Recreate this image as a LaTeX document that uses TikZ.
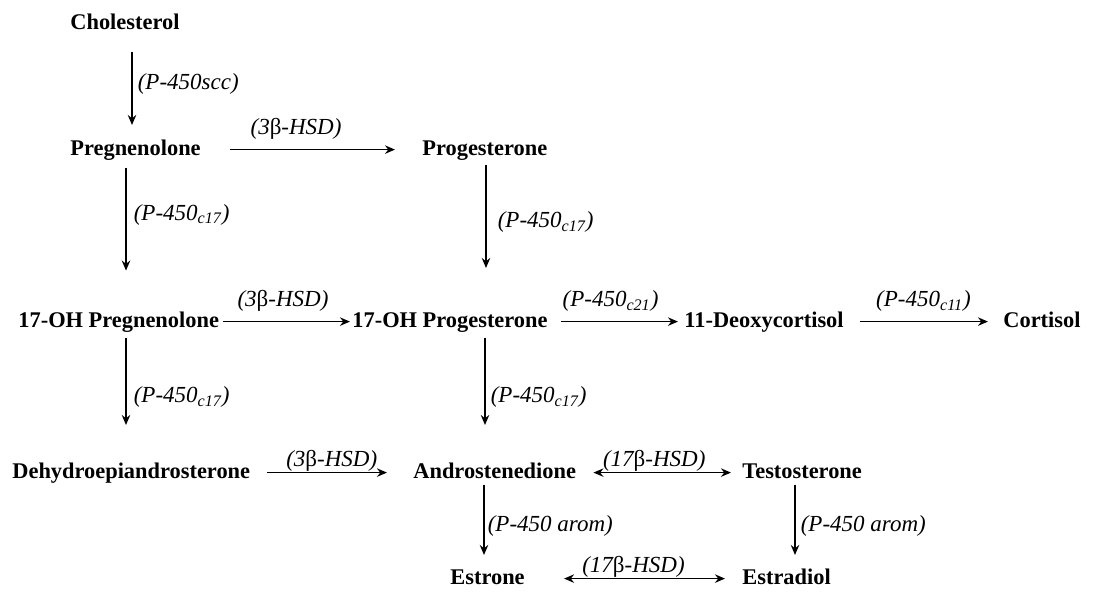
\documentclass[tikz,border=0pt]{standalone}
\usepackage{fontspec}
\setmainfont{Liberation Serif}
\usetikzlibrary{arrows.meta}
\begin{document}
\begin{tikzpicture}[x=0.5pt,y=-0.5pt,
    compound/.style={inner sep=0pt,anchor=base west,text height=8pt,text depth=2.6pt,
      font=\fontsize{11.2}{13}\selectfont\bfseries},
    enzyme/.style={inner sep=0.5pt,font=\fontsize{11.5}{13}\selectfont\itshape},
    conv/.style={-{Stealth[length=5pt,width=4.2pt]},line width=0.8pt},
    rev/.style={{Stealth[length=5pt,width=4.2pt]}-{Stealth[length=5pt,width=4.2pt]},line width=0.8pt},
    gaps/.style 2 args={shorten <=#1,shorten >=#2}]
  \useasboundingbox (0,0) rectangle (1093,594);
  \newcommand{\bhsd}{(3{\upshape β}-HSD)}
  \newcommand{\shsd}{(17{\upshape β}-HSD)}
  \node[compound] (chol) at (70,29) {Cholesterol};
  \node[compound] (preg) at (70,155) {Pregnenolone};
  \node[compound] (prog) at (422,155) {Progesterone};
  \node[compound] (preg17) at (18,327) {17-OH Pregnenolone};
  \node[compound] (prog17) at (352,327) {17-OH Progesterone};
  \node[compound] (deoxy) at (684,327) {11-Deoxycortisol};
  \node[compound] (cort) at (1003,327) {Cortisol};
  \node[compound] (dhea) at (12,478) {Dehydroepiandrosterone};
  \node[compound] (andro) at (413,478) {Androstenedione};
  \node[compound] (testo) at (742,478) {Testosterone};
  \node[compound] (estrone) at (450,584) {Estrone};
  \node[compound] (estradiol) at (742,584) {Estradiol};
  \draw[conv,gaps={8.5pt}{6.8pt}] ([xshift=31pt]chol.south west) -- ([xshift=31pt]preg.north west)
    node[enzyme,right=2pt,pos=0.47] (e1) {(P-450scc)};
  \draw[conv,gaps={14.5pt}{13.5pt}] (preg.east) -- (prog.west)
    node[enzyme,above=4pt,pos=0.43] (e2) {\bhsd};
  \draw[conv,gaps={3.5pt}{20pt}] ([xshift=28pt]preg.south west) -- ([xshift=54pt]preg17.north west)
    node[enzyme,right=3pt,pos=0.36] (e3) {(P-450\textsubscript{c17})};
  \draw[conv,gaps={2pt}{21.3pt}] ([xshift=32pt]prog.south west) -- ([xshift=67pt]prog17.north west)
    node[enzyme,right=5pt,pos=0.41] (e4) {(P-450\textsubscript{c17})};
  \draw[conv,gaps={2pt}{1pt}] (preg17.east) -- (prog17.west)
    node[enzyme,above=4pt,pos=0.48] (e5) {\bhsd};
  \draw[conv,gaps={6.5pt}{3pt}] (prog17.east) -- (deoxy.west)
    node[enzyme,above=4pt,pos=0.46] (e6) {(P-450\textsubscript{c21})};
  \draw[conv,gaps={8pt}{7.5pt}] (deoxy.east) -- (cort.west)
    node[enzyme,above=4pt,pos=0.5] (e7) {(P-450\textsubscript{c11})};
  \draw[conv,gaps={2.5pt}{18.3pt}] ([xshift=54pt]preg17.south west) -- ([xshift=57pt]dhea.north west)
    node[enzyme,right=3pt,pos=0.5] (e8) {(P-450\textsubscript{c17})};
  \draw[conv,gaps={2.5pt}{18.3pt}] ([xshift=66.5pt]prog17.south west) -- ([xshift=36pt]andro.north west)
    node[enzyme,right=2pt,pos=0.5] (e9) {(P-450\textsubscript{c17})};
  \draw[conv,gaps={8pt}{13pt}] (dhea.east) -- (andro.west)
    node[enzyme,above=-0.5pt,pos=0.5] (e10) {\bhsd};
  \draw[rev,gaps={8.5pt}{5.5pt}] (andro.east) -- (testo.west)
    node[enzyme,above=-0.5pt,pos=0.47] (e11) {\shsd};
  \draw[conv,gaps={0.5pt}{6.3pt}] ([xshift=35.5pt]andro.south west) -- ([xshift=17pt]estrone.north west)
    node[enzyme,right=1pt,pos=0.5] (e12) {(P-450 arom)};
  \draw[conv,gaps={0.5pt}{6.3pt}] ([xshift=26.5pt]testo.south west) -- ([xshift=26.5pt]estradiol.north west)
    node[enzyme,right=2pt,pos=0.5] (e13) {(P-450 arom)};
  \draw[rev,gaps={19.5pt}{8.5pt}] (estrone.east) -- (estradiol.west)
    node[enzyme,above=-0.5pt,pos=0.5] (e14) {\shsd};
\end{tikzpicture}
\end{document}
